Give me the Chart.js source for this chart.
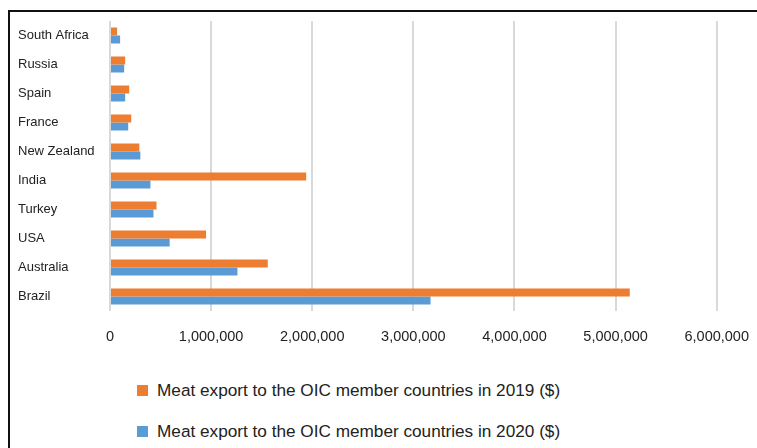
<!DOCTYPE html>
<html>
<head>
<meta charset="utf-8">
<script src="https://cdn.jsdelivr.net/npm/chart.js@4"></script>
<style>
  html, body { margin: 0; padding: 0; background: #fff; }
  #wrap { position: relative; width: 757px; height: 448px; overflow: hidden; font-family: "Liberation Sans", Arial, sans-serif; }
  #frame { position: absolute; left: 8px; top: 10px; right: -10px; bottom: -10px; border-left: 2px solid #111; border-top: 2px solid #111; }
  #chart { position: absolute; left: 0; top: 0; }
  .leg { position: absolute; left: 137px; font-size: 17.2px; color: #222; white-space: nowrap; line-height: 20px; }
  .leg i { display: inline-block; width: 11px; height: 11px; vertical-align: 0px; margin-right: 9px; }
</style>
</head>
<body>
<div id="wrap">
  <div id="frame"></div>
  <canvas id="chart" width="766" height="360"></canvas>
  <div class="leg" style="top:380px"><i style="background:#ED7D31"></i>Meat export to the OIC member countries in 2019 ($)</div>
  <div class="leg" style="top:421px"><i style="background:#5B9BD5"></i>Meat export to the OIC member countries in 2020 ($)</div>
</div>
<script>
const countries = ['South Africa', 'Russia', 'Spain', 'France', 'New Zealand', 'India', 'Turkey', 'USA', 'Australia', 'Brazil'];
const export2019 = [70000, 150000, 190000, 210000, 290000, 1940000, 460000, 950000, 1560000, 5140000];
const export2020 = [100000, 140000, 150000, 180000, 300000, 400000, 430000, 590000, 1260000, 3170000];
const xTicks = [0, 1000000, 2000000, 3000000, 4000000, 5000000, 6000000];

const ORANGE = '#ED7D31';
const BLUE = '#5B9BD5';

new Chart(document.getElementById('chart'), {
  type: 'bar',
  data: {
    labels: countries,
    datasets: [
      { label: 'Meat export to the OIC member countries in 2019 ($)', data: export2019, backgroundColor: ORANGE },
      { label: 'Meat export to the OIC member countries in 2020 ($)', data: export2020, backgroundColor: BLUE },
    ],
  },
  options: {
    indexAxis: 'y',
    responsive: false,
    animation: false,
    datasets: { bar: { categoryPercentage: 0.55, barPercentage: 1.0 } },
    layout: { padding: { left: 18, top: 21, right: 33, bottom: 0 } },
    plugins: { legend: { display: false }, tooltip: { enabled: false } },
    scales: {
      x: {
        min: 0,
        max: 6000000,
        afterBuildTicks: (scale) => { scale.ticks = xTicks.map((value) => ({ value })); },
        afterFit: (scale) => { scale.height = 49; },
        grid: { color: '#d9d9d9', lineWidth: 2, drawTicks: false },
        border: { display: false },
        ticks: {
          padding: 17,
          color: '#222',
          font: { family: 'Liberation Sans', size: 14.5 },
          maxRotation: 0,
          callback: (value) => Number(value).toLocaleString('en-US'),
        },
      },
      y: {
        afterFit: (scale) => { scale.width = 92; },
        grid: { display: false, drawTicks: false },
        border: { display: false },
        ticks: {
          crossAlign: 'far',
          color: '#222',
          font: { family: 'Liberation Sans', size: 13 },
        },
      },
    },
  },
});
</script>
</body>
</html>
